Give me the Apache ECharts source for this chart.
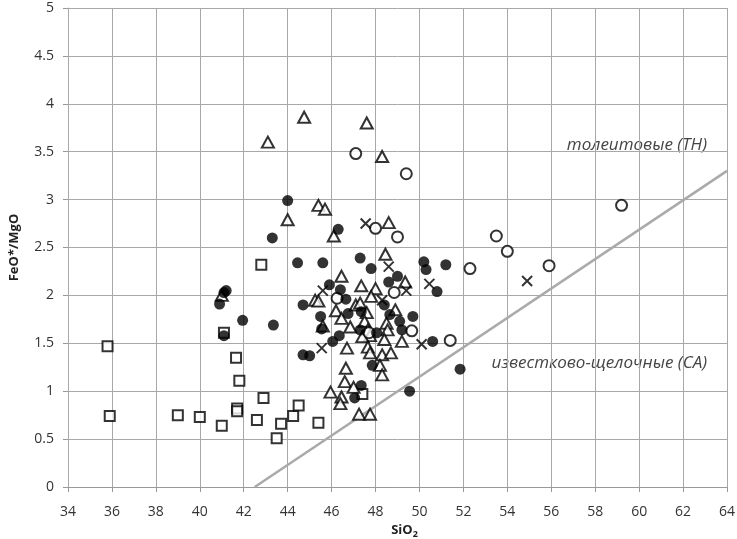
<!DOCTYPE html>
<html>
<head>
<meta charset="utf-8">
<script src="https://cdn.jsdelivr.net/npm/echarts@6/dist/echarts.min.js"></script>
<style>
  html, body { margin: 0; padding: 0; background: #fff; }
  #chart { width: 737px; height: 539px; }
</style>
</head>
<body>
<div id="chart"></div>
<script>
// SiO2 (x) vs FeO*/MgO (y), one array per marker group
const squares = [
  [35.8, 1.47], [35.9, 0.74], [39.0, 0.75], [40.0, 0.73], [41.0, 0.64],
  [41.1, 1.61], [41.65, 1.35], [41.8, 1.11], [41.7, 0.82], [41.7, 0.79],
  [42.8, 2.32], [42.9, 0.93], [42.6, 0.70], [43.5, 0.51], [43.7, 0.66],
  [44.25, 0.74], [44.5, 0.85], [45.4, 0.67], [47.4, 0.97]
];
const dots = [
  [40.9, 1.91], [41.1, 2.03], [41.2, 2.05], [41.1, 1.58], [41.95, 1.74],
  [43.35, 1.69], [43.3, 2.60], [44.0, 2.99], [44.45, 2.34], [44.7, 1.90],
  [44.7, 1.38], [45.0, 1.37], [45.5, 1.78], [45.55, 1.65], [45.6, 2.34],
  [45.9, 2.11], [46.3, 2.69], [46.4, 2.06], [46.65, 1.96], [46.75, 1.81],
  [46.05, 1.52], [46.35, 1.58], [47.3, 2.39], [47.8, 2.28], [47.3, 1.64],
  [47.35, 1.83], [48.05, 1.61], [47.85, 1.27], [47.35, 1.06], [47.05, 0.93],
  [48.4, 1.90], [48.6, 2.14], [48.65, 1.80], [49.0, 2.20], [49.1, 1.73],
  [49.2, 1.64], [49.7, 1.78], [49.55, 1.00], [50.2, 2.35], [50.3, 2.27],
  [50.8, 2.04], [51.2, 2.32], [50.6, 1.52], [51.85, 1.23]
];
const triangles = [
  [43.1, 3.60], [44.75, 3.86], [47.6, 3.80], [48.3, 3.45], [44.0, 2.79],
  [45.4, 2.94], [45.7, 2.90], [46.1, 2.62], [48.6, 2.76], [48.45, 2.43],
  [46.45, 2.20], [47.35, 2.10], [48.0, 2.07], [47.8, 1.99], [49.35, 2.14],
  [41.0, 2.00], [45.25, 1.95], [45.4, 1.94], [46.2, 1.84], [46.45, 1.76],
  [46.85, 1.67], [45.6, 1.68], [47.1, 1.90], [47.3, 1.92], [47.6, 1.82],
  [47.5, 1.73], [47.65, 1.64], [47.75, 1.58], [48.9, 1.85], [48.5, 1.71],
  [48.55, 1.64], [49.2, 1.52], [48.4, 1.54], [47.4, 1.57], [46.7, 1.45],
  [47.65, 1.46], [47.75, 1.40], [48.3, 1.38], [48.7, 1.40], [46.65, 1.24],
  [48.2, 1.27], [48.3, 1.17], [46.6, 1.10], [45.95, 0.99], [46.45, 0.94],
  [46.4, 0.87], [47.0, 1.04], [47.25, 0.76], [47.75, 0.76]
];
const rings = [
  [47.1, 3.48], [49.4, 3.27], [48.0, 2.70], [49.0, 2.61], [46.25, 1.97],
  [48.85, 2.03], [47.7, 1.61], [49.65, 1.63], [51.4, 1.53], [52.3, 2.28],
  [53.5, 2.62], [54.0, 2.46], [55.9, 2.31], [59.2, 2.94]
];
const crosses = [
  [47.55, 2.75], [48.6, 2.30], [45.6, 2.05], [48.3, 1.95], [49.4, 2.05],
  [50.45, 2.12], [45.55, 1.45], [50.1, 1.49], [54.9, 2.15]
];
// TH / CA dividing line
const divider = [[42.5, 0], [64, 3.3]];

const font = "'Open Sans', 'Noto Sans', sans-serif";
const open = { color: '#fff', borderColor: '#000', borderWidth: 2 };

const chart = echarts.init(document.getElementById('chart'));
chart.setOption({
  animation: false,
  grid: { left: 68, right: 10, top: 8, bottom: 52, outerBoundsMode: 'none', containLabel: false },
  xAxis: {
    type: 'value', min: 34, max: 64, interval: 2,
    name: '{a|SiO}{b|2}', nameLocation: 'middle', nameGap: 23,
    nameTextStyle: {
      padding: [0, 0, 0, 14],
      rich: {
        a: { fontFamily: font, fontWeight: 'bold', fontSize: 13, color: '#222' },
        b: { fontFamily: font, fontWeight: 'bold', fontSize: 9, color: '#222', verticalAlign: 'bottom', padding: [9, 0, 0, 0] }
      }
    },
    axisLine: { onZero: false, lineStyle: { color: '#999', width: 1 } },
    axisTick: { show: true, length: 5, lineStyle: { color: '#999' } },
    axisLabel: { fontFamily: font, fontSize: 14, color: '#333', margin: 18 },
    splitLine: { show: true, lineStyle: { color: '#a8a8a8', width: 1 } }
  },
  yAxis: {
    type: 'value', min: 0, max: 5, interval: 0.5,
    name: 'FeO*/MgO', nameLocation: 'middle', nameGap: 47, nameRotate: 90,
    nameTextStyle: { fontFamily: font, fontWeight: 'bold', fontSize: 13, color: '#222' },
    axisLine: { show: true, lineStyle: { color: '#a8a8a8' } },
    axisTick: { show: true, length: 5, lineStyle: { color: '#999' } },
    axisLabel: { fontFamily: font, fontSize: 14, color: '#333', margin: 14 },
    splitLine: { show: true, lineStyle: { color: '#a8a8a8', width: 1 } }
  },
  series: [
    {
      type: 'line', data: divider, symbol: 'none', silent: true,
      lineStyle: { color: '#aaa', width: 2.5 }, z: 1
    },
    { type: 'scatter', data: squares, symbol: 'rect', symbolSize: 10, itemStyle: open, z: 3 },
    { type: 'scatter', data: triangles, symbol: 'triangle', symbolSize: [12, 11], itemStyle: open, z: 3 },
    { type: 'scatter', data: rings, symbol: 'circle', symbolSize: 11, itemStyle: open, z: 3 },
    {
      type: 'scatter', data: crosses, symbol: 'path://M0,0L10,10M10,0L0,10', symbolSize: 10,
      itemStyle: { color: 'none', borderColor: '#000', borderWidth: 2 }, z: 3
    },
    { type: 'scatter', data: dots, symbol: 'circle', symbolSize: 11, itemStyle: { color: '#000' }, z: 4 }
  ],
  graphic: [
    {
      type: 'text', right: 30, top: 137,
      style: { text: 'толеитовые (TH)', fontFamily: font, fontStyle: 'italic', fontSize: 17, fill: '#444' }
    },
    {
      type: 'text', right: 30, top: 355,
      style: { text: 'известково-щелочные (CA)', fontFamily: font, fontStyle: 'italic', fontSize: 17, fill: '#444' }
    }
  ]
});
</script>
</body>
</html>
